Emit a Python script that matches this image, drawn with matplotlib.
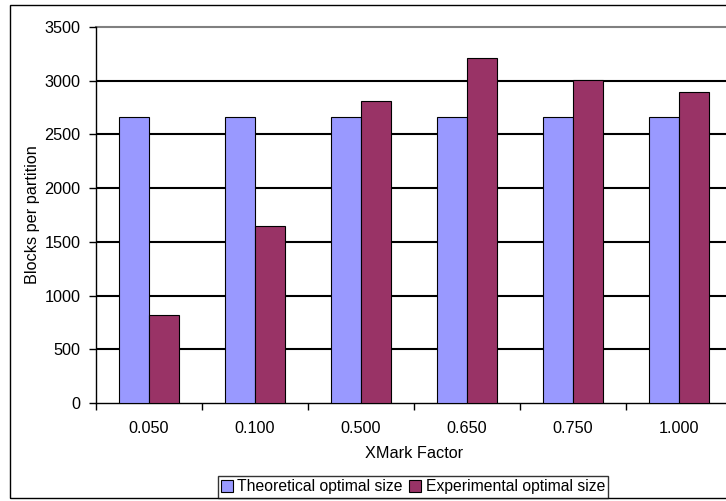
import numpy as np
from matplotlib import pyplot as plt
from matplotlib.patches import Rectangle

factors = ["0.050", "0.100", "0.500", "0.650", "0.750", "1.000"]
theoretical = [2660, 2660, 2660, 2660, 2660, 2660]
experimental = [815, 1650, 2810, 3210, 3010, 2895]
yticks = [0, 500, 1000, 1500, 2000, 2500, 3000, 3500]

plt.rcParams['font.family'] = ['Liberation Sans', 'DejaVu Sans']
fs = 11.7

fig = plt.figure(figsize=(7.26, 5.01), dpi=100)

# outer chart border (right side runs off the image)
fig.patches.append(Rectangle((10 / 726, 3 / 501), 1.0, 493 / 501,
                             transform=fig.transFigure, fill=False,
                             edgecolor="black", linewidth=1.0))

ax = fig.add_axes([96 / 726, 1 - 403 / 501, 636 / 726, 376 / 501])

x = np.arange(len(factors))
w = 0.285
ax.bar(x - w / 2, theoretical, w, color="#9999FF", edgecolor="black",
       linewidth=0.8, label="Theoretical optimal size", zorder=3)
ax.bar(x + w / 2, experimental, w, color="#993366", edgecolor="black",
       linewidth=0.8, label="Experimental optimal size", zorder=3)

ax.set_xlim(-0.5, len(factors) - 0.5)
ax.set_ylim(0, 3500)
ax.set_yticks(yticks)
ax.tick_params(axis="y", direction="out", length=5, width=1, pad=6, labelsize=fs)

ax.set_xticks(x)
ax.set_xticklabels(factors)
ax.tick_params(axis="x", which="major", length=0, pad=13, labelsize=fs)
ax.set_xticks(np.arange(len(factors) + 1) - 0.5, minor=True)
ax.tick_params(axis="x", which="minor", direction="out", length=5, width=1)

for v in yticks[1:-1]:
    ax.axhline(v, color="black", linewidth=1.5, zorder=1)
ax.axhline(3500, color="#808080", linewidth=1.5, zorder=1, clip_on=False)

for s in ["top", "right"]:
    ax.spines[s].set_visible(False)
ax.spines["left"].set_linewidth(1)
ax.spines["bottom"].set_linewidth(1)

fig.text(414 / 726, 1 - 453 / 501, "XMark Factor", ha="center", va="center", fontsize=fs)
fig.text(33 / 726, 1 - 215 / 501, "Blocks per partition", ha="center", va="center",
         rotation=90, fontsize=fs)

leg = fig.legend(loc="center", bbox_to_anchor=(413 / 726, 1 - 487 / 501), ncol=2,
                 frameon=True, fancybox=False, edgecolor="black", fontsize=11.3,
                 handlelength=0.75, handleheight=0.75, handletextpad=0.3,
                 columnspacing=0.4, borderpad=0.2, borderaxespad=0)
leg.get_frame().set_linewidth(1)

fig.savefig("out.png", dpi=100)
